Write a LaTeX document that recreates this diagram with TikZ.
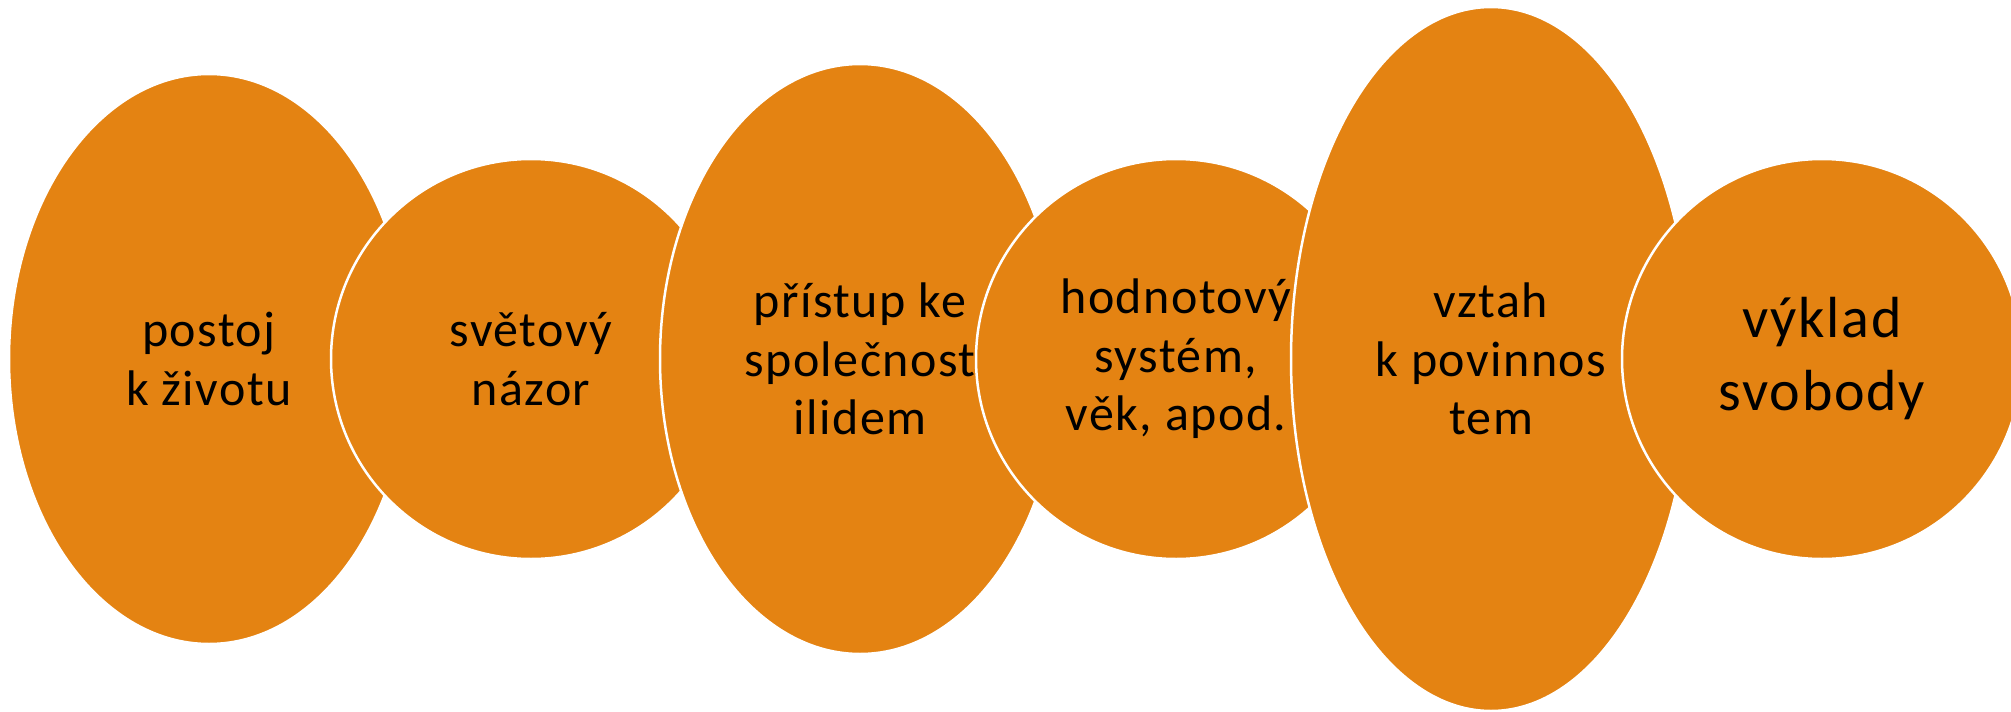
\documentclass[tikz,border=0pt]{standalone}
\usepackage{fontspec}
\setmainfont[LetterSpace=3]{Carlito}
\usetikzlibrary{shapes.geometric}
\definecolor{oranz}{HTML}{E48312}

\begin{document}
\begin{tikzpicture}[x=1pt,y=-1pt,
        bublina/.style={fill=oranz,draw=white,line width=2.5pt,inner sep=0pt,align=center,
            font=\fontsize{50}{58.6}\selectfont},
        vejce/.style={bublina,ellipse,minimum width=400pt},
        kruh/.style={bublina,circle,minimum size=400pt}]
        \useasboundingbox (0,0) rectangle (2011,712);
        \node[vejce,minimum height=570pt] (postoj) at (209,359) {postoj\\k životu};
        \node[kruh] (nazor) at (531,359) {světový\\názor};
        \node[vejce,minimum height=590pt] (pristup) at (860,359) {přístup ke\\společnost\\ilidem};
        \node[kruh] (hodnoty) at (1176,359) {hodnotový\\systém,\\věk, apod.};
        \node[vejce,minimum height=704pt] (vztah) at (1491,359) {vztah\\k povinnos\\tem};
        \node[kruh,font=\fontsize{58}{73}\selectfont] (svoboda) at (1822,359) {výklad\\svobody};
    \end{tikzpicture}
\end{document}
